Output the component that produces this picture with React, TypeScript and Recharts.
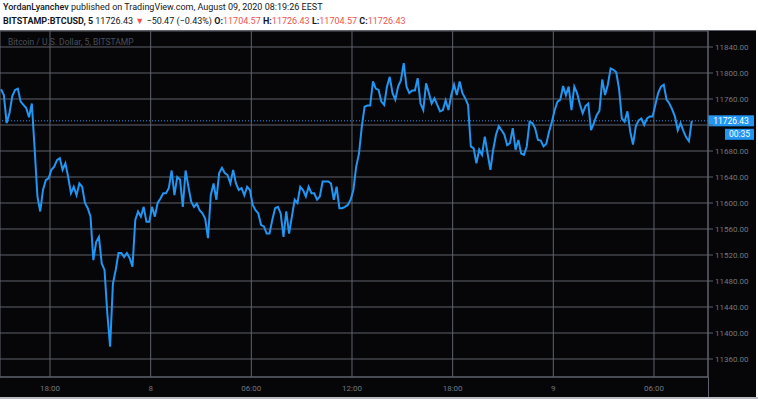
import React from 'react';
import { LineChart, Line, XAxis, YAxis, CartesianGrid, ReferenceLine } from 'recharts';

// Time axis: hours counted from Aug 7 00:00, 10-minute samples
const START_HOUR = 15 + 5 / 60;
const STEP_HOURS = 10 / 60;

const PRICES: number[] = [
  11775, 11766, 11723, 11738, 11764, 11774, 11776, 11756, 11751, 11746,
  11732, 11753, 11684, 11610, 11587, 11620, 11635, 11638, 11651, 11656,
  11666, 11669, 11651, 11661, 11640, 11615, 11625, 11612, 11630, 11625,
  11600, 11592, 11579, 11512, 11540, 11548, 11507, 11497, 11430, 11379,
  11476, 11497, 11523, 11523, 11517, 11523, 11515, 11502, 11574, 11587,
  11579, 11594, 11571, 11571, 11594, 11579, 11600, 11607, 11615, 11615,
  11623, 11650, 11612, 11640, 11636, 11594, 11650, 11625, 11602, 11594,
  11599, 11589, 11584, 11576, 11546, 11612, 11630, 11605, 11646, 11654,
  11646, 11643, 11630, 11651, 11630, 11620, 11623, 11612, 11625, 11620,
  11597, 11589, 11584, 11566, 11564, 11553, 11553, 11574, 11592, 11594,
  11584, 11548, 11587, 11553, 11579, 11605, 11600, 11625, 11620, 11610,
  11625, 11615, 11615, 11605, 11610, 11633, 11633, 11633, 11630, 11605,
  11625, 11592, 11592, 11594, 11597, 11605, 11620, 11656, 11676, 11717,
  11748, 11750, 11750, 11787, 11776, 11774, 11756, 11751, 11779, 11794,
  11769, 11759, 11779, 11789, 11815, 11779, 11769, 11773, 11773, 11792,
  11753, 11743, 11784, 11769, 11753, 11761, 11751, 11741, 11743, 11758,
  11743, 11766, 11782, 11766, 11787, 11769, 11761, 11751, 11687, 11684,
  11661, 11682, 11674, 11702, 11676, 11651, 11682, 11705, 11718, 11712,
  11705, 11689, 11692, 11715, 11682, 11697, 11676, 11674, 11687, 11725,
  11723, 11715, 11697, 11696, 11687, 11691, 11710, 11725, 11743, 11756,
  11759, 11780, 11766, 11779, 11743, 11779, 11769, 11752, 11738, 11749,
  11753, 11712, 11723, 11735, 11742, 11790, 11766, 11782, 11807, 11805,
  11801, 11776, 11730, 11725, 11741, 11710, 11690, 11718, 11727, 11730,
  11720, 11730, 11733, 11733, 11751, 11769, 11779, 11782, 11759, 11753,
  11744, 11733, 11712, 11723, 11711, 11701, 11695, 11726.43,
];

const X_TICKS = [18, 24, 30, 36, 42, 48, 54];
const FIRST_DAY = 7;
const Y_TICKS = [11360, 11400, 11440, 11480, 11520, 11560, 11600, 11640, 11680, 11720, 11760, 11800, 11840];
const X_DOMAIN: [number, number] = [15.02, 57.22];
const Y_DOMAIN: [number, number] = [11332.3, 11864.6];

const LAST_PRICE = 11726.43;
const COUNTDOWN = '00:35';
const CHANGE = '\u221250.47 (\u22120.43%)';
const OPEN = '11704.57';
const HIGH = '11726.43';
const LOW = '11704.57';
const CLOSE = '11726.43';
const SYMBOL_TITLE = 'Bitcoin / U.S. Dollar, 5, BITSTAMP';

const data = PRICES.map((p, i) => ({ t: START_HOUR + i * STEP_HOURS, price: p }));

const BLUE = '#2196f3';
const GRID = '#5f626c';
const AXIS_TEXT = '#74777f';
const RED = '#ef5350';
const FONT = 'Roboto, "Noto Sans", sans-serif';

const fmtX = (h: number) => {
  if (h % 24 === 0) return String(FIRST_DAY + h / 24);
  const hh = h % 24;
  return `${hh < 10 ? '0' : ''}${hh}:00`;
};

const fmtY = (v: number) => (Math.abs(v - LAST_PRICE) < 15 ? '' : v.toFixed(2));

const PriceLabel = (props: any) => {
  const vb = props.viewBox || {};
  const right = (vb.x || 0) + (vb.width || 0);
  const y = vb.y || 0;
  return (
    <g>
      <rect x={right} y={y - 5.5} width={46} height={11} fill={BLUE} />
      <text x={right + 23} y={y + 3} fill="#ffffff" fontSize={8.5} textAnchor="middle" fontFamily={FONT}>
        {LAST_PRICE.toFixed(2)}
      </text>
      <rect x={right + 17} y={y + 8} width={29} height={11} fill={BLUE} />
      <text x={right + 31.5} y={y + 16.5} fill="#ffffff" fontSize={8.5} textAnchor="middle" fontFamily={FONT}>
        {COUNTDOWN}
      </text>
    </g>
  );
};

export default function App() {
  return (
    <div style={{ position: 'absolute', left: 0, top: 0, width: 758, height: 399, background: '#ffffff', overflow: 'hidden', fontFamily: FONT }}>
      <div style={{ position: 'absolute', left: 3, top: 0, fontSize: 9, lineHeight: '14px', color: '#131722', whiteSpace: 'nowrap' }}>
        <div>
          <span style={{ fontWeight: 500 }}>YordanLyanchev</span> published on TradingView.com, August 09, 2020 08:19:26 EEST
        </div>
        <div>
          <span style={{ fontWeight: 700 }}>BITSTAMP:BTCUSD, 5</span> {LAST_PRICE.toFixed(2)}{' '}
          <span style={{ color: RED }}>{'\u25BC'}</span> {CHANGE}{' '}
          <span style={{ fontWeight: 700 }}>O:</span><span style={{ color: RED }}>{OPEN}</span>{' '}
          <span style={{ fontWeight: 700 }}>H:</span><span style={{ color: RED }}>{HIGH}</span>{' '}
          <span style={{ fontWeight: 700 }}>L:</span><span style={{ color: RED }}>{LOW}</span>{' '}
          <span style={{ fontWeight: 700 }}>C:</span><span style={{ color: RED }}>{CLOSE}</span>
        </div>
      </div>
      <div style={{ position: 'absolute', left: 0, top: 30, width: 756, height: 367, background: '#060608', borderTop: `1px solid ${GRID}`, boxSizing: 'border-box' }} />
      <div style={{ position: 'absolute', left: 0, top: 397, width: 758, height: 2, background: '#b8bbc2' }} />
      <div style={{ position: 'absolute', left: 0, top: 31 }}>
        <LineChart width={756} height={366} data={data} margin={{ top: 0, right: 0, bottom: 0, left: 0 }}>
          <CartesianGrid stroke={GRID} strokeWidth={1} />
          <XAxis
            dataKey="t"
            type="number"
            domain={X_DOMAIN}
            ticks={X_TICKS}
            allowDataOverflow
            tickFormatter={fmtX}
            height={20}
            axisLine={{ stroke: GRID }}
            tickLine={false}
            tick={{ fill: AXIS_TEXT, fontSize: 8, fontFamily: FONT }}
            interval={0}
          />
          <YAxis
            orientation="right"
            type="number"
            domain={Y_DOMAIN}
            ticks={Y_TICKS}
            allowDataOverflow
            tickFormatter={fmtY}
            width={48}
            tickSize={5}
            tickMargin={2}
            axisLine={{ stroke: GRID }}
            tickLine={{ stroke: GRID }}
            tick={{ fill: AXIS_TEXT, fontSize: 8, fontFamily: FONT, textAnchor: 'start' }}
            interval={0}
          />
          <ReferenceLine y={LAST_PRICE} stroke={BLUE} strokeDasharray="1 2" strokeWidth={1} label={<PriceLabel />} />
          <Line
            type="linear"
            dataKey="price"
            stroke={BLUE}
            strokeWidth={2}
            dot={false}
            activeDot={false}
            isAnimationActive={false}
          />
        </LineChart>
      </div>
      <div style={{ position: 'absolute', left: 708, top: 377, width: 1, height: 20, background: GRID }} />
      <div style={{ position: 'absolute', left: 8, top: 37, fontSize: 8.5, lineHeight: '10px', color: '#4c4f58', whiteSpace: 'nowrap' }}>
        {SYMBOL_TITLE}
      </div>
    </div>
  );
}
